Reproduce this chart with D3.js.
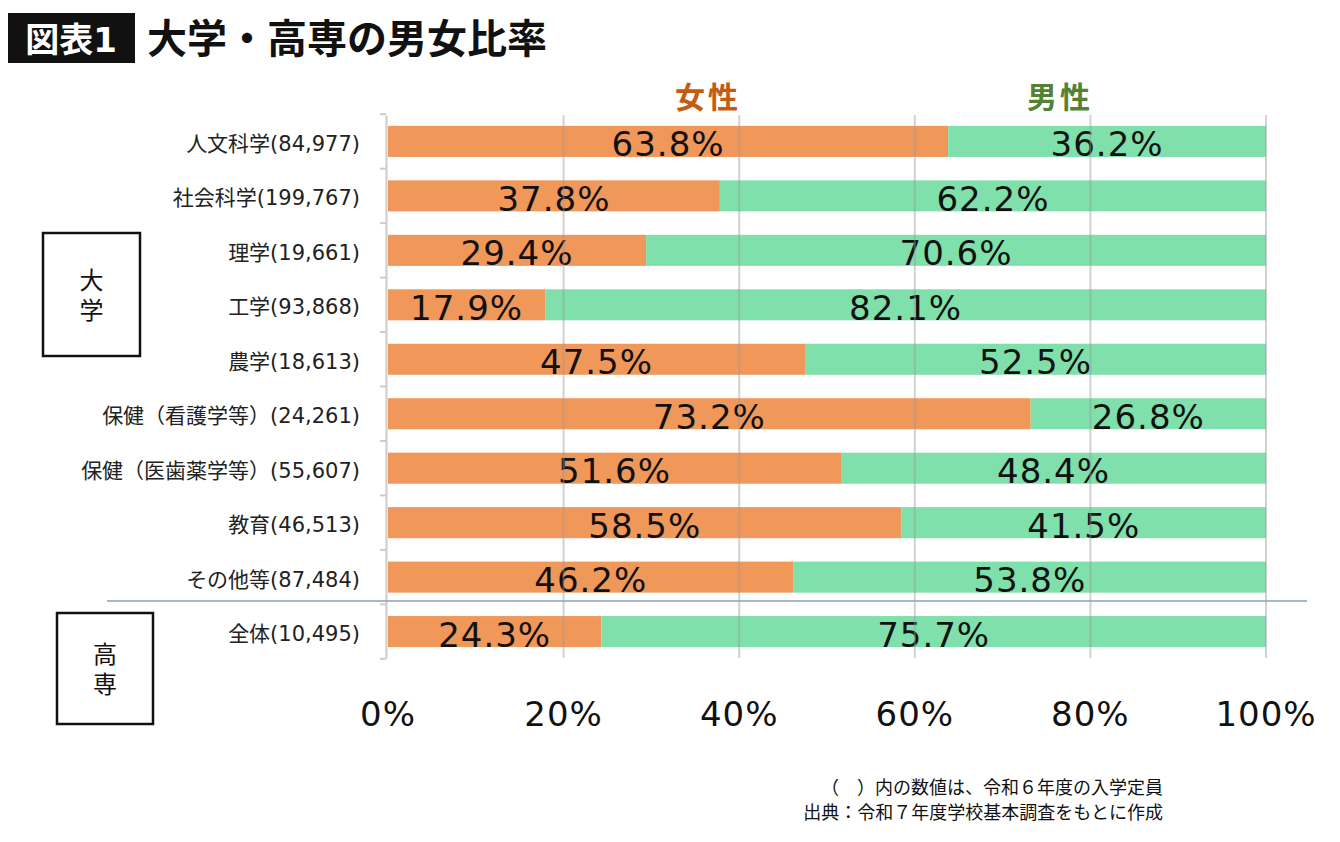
<!DOCTYPE html>
<html><head><meta charset="utf-8">
<script src="https://cdn.jsdelivr.net/npm/d3@7"></script>
<style>body{margin:0;background:#fff}text{font-family:"DejaVu Sans","Noto Sans CJK JP",sans-serif}</style>
</head><body><svg width="1340" height="842"></svg>
<script>
const categories = ["人文科学(84,977)","社会科学(199,767)","理学(19,661)","工学(93,868)","農学(18,613)","保健（看護学等）(24,261)","保健（医歯薬学等）(55,607)","教育(46,513)","その他等(87,484)","全体(10,495)"];
const female = [63.8,37.8,29.4,17.9,47.5,73.2,51.6,58.5,46.2,24.3];
const male = [36.2,62.2,70.6,82.1,52.5,26.8,48.4,41.5,53.8,75.7];
const xTicks = [0,20,40,60,80,100];

const svg = d3.select("svg");
const x = d3.scaleLinear().domain([0,100]).range([388,1266]);
const y = d3.scaleBand().domain(categories).range([115,658]).paddingInner(0.43).paddingOuter(0.2);

// title
svg.append("rect").attr("x",8).attr("y",13).attr("width",127).attr("height",50).attr("fill","#111");
svg.append("text").attr("x",71).attr("y",52).attr("text-anchor","middle").attr("fill","#fff")
  .style("font-size","34px").style("font-weight","bold").text("図表1");
svg.append("text").attr("x",147).attr("y",53).attr("fill","#111")
  .style("font-size","40px").style("font-weight","bold").style("font-family","Noto Sans CJK JP").text("大学・高専の男女比率");

// legend
svg.append("text").attr("x",708).attr("y",108).attr("text-anchor","middle").attr("fill","#c55a11")
  .style("font-size","30px").style("font-weight","bold").style("letter-spacing","3px").text("女性");
svg.append("text").attr("x",1060).attr("y",108).attr("text-anchor","middle").attr("fill","#548235")
  .style("font-size","30px").style("font-weight","bold").style("letter-spacing","3px").text("男性");

// bars
const rows = svg.append("g").selectAll("g").data(categories).join("g");
rows.append("rect").attr("x",x(0)).attr("y",d=>y(d)).attr("height",y.bandwidth())
  .attr("width",(d,i)=>x(female[i])-x(0)).attr("fill","#f0975a");
rows.append("rect").attr("x",(d,i)=>x(female[i])).attr("y",d=>y(d)).attr("height",y.bandwidth())
  .attr("width",(d,i)=>x(100)-x(female[i])).attr("fill","#7fe0ab");

// gridlines on top
svg.append("g").selectAll("line").data(xTicks.slice(1)).join("line")
  .attr("x1",d=>x(d)).attr("x2",d=>x(d)).attr("y1",115).attr("y2",658)
  .attr("stroke","#999").attr("stroke-opacity",0.45).attr("stroke-width",2);

// value labels
rows.append("text").attr("x",(d,i)=>x(female[i]/2)).attr("y",d=>y(d)+y.bandwidth()/2+15)
  .attr("text-anchor","middle").style("font-size","34px").style("letter-spacing","1px").attr("fill","#111").text((d,i)=>female[i].toFixed(1)+"%");
rows.append("text").attr("x",(d,i)=>x(female[i]+male[i]/2)).attr("y",d=>y(d)+y.bandwidth()/2+15)
  .attr("text-anchor","middle").style("font-size","34px").style("letter-spacing","1px").attr("fill","#111").text((d,i)=>male[i].toFixed(1)+"%");

// y axis
const yAxis = svg.append("g").attr("transform","translate(386,0)")
  .call(d3.axisLeft(y).tickSize(0).tickPadding(26));
yAxis.select(".domain").attr("stroke","#ccc").attr("stroke-width",2);
yAxis.selectAll("text").style("font-size","21px").attr("fill","#222").attr("dy","0.45em");
const step = y.step();
svg.append("g").selectAll("line").data(d3.range(categories.length+1)).join("line")
  .attr("x1",380).attr("x2",386)
  .attr("y1",i=>y(categories[0])-step*0.215+i*step).attr("y2",i=>y(categories[0])-step*0.215+i*step)
  .attr("stroke","#ccc").attr("stroke-width",2);

// x axis labels
svg.append("g").selectAll("text").data(xTicks).join("text")
  .attr("x",d=>x(d)).attr("y",726).attr("text-anchor","middle").style("font-size","34px").style("letter-spacing","1px").attr("fill","#111")
  .text(d=>d+"%");

// separator
svg.append("line").attr("x1",107).attr("x2",1307).attr("y1",601).attr("y2",601).attr("stroke","#8aa3b5").attr("stroke-width",1.5);

// group boxes
function box(bx,by,w,h,chars){
  svg.append("rect").attr("x",bx).attr("y",by).attr("width",w).attr("height",h).attr("fill","none").attr("stroke","#111").attr("stroke-width",2.5);
  chars.forEach((c,i)=>svg.append("text").attr("x",bx+w/2).attr("y",by+h/2+(i-0.5)*30+9)
    .attr("text-anchor","middle").style("font-size","24px").attr("fill","#111").text(c));
}
box(43,233,97,123,["大","学"]);
box(57,613,96,111,["高","専"]);

// notes
svg.append("text").attr("x",1163).attr("y",794).attr("text-anchor","end").style("font-size","18px").attr("fill","#111")
  .text("（　）内の数値は、令和６年度の入学定員");
svg.append("text").attr("x",1163).attr("y",819).attr("text-anchor","end").style("font-size","18px").attr("fill","#111")
  .text("出典：令和７年度学校基本調査をもとに作成");
</script></body></html>
